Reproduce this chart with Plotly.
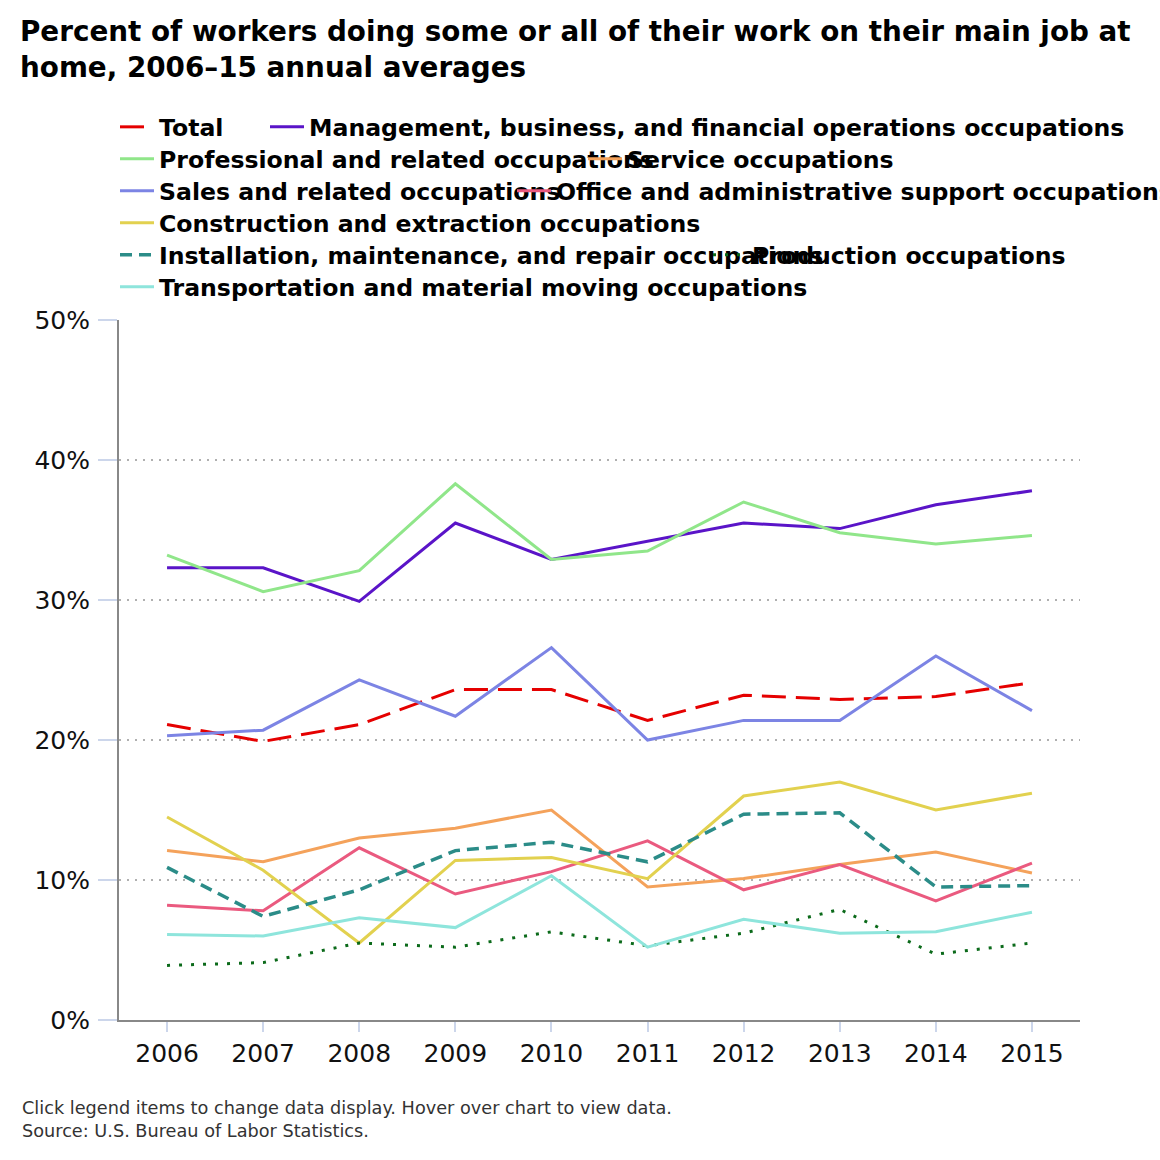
import plotly.graph_objects as go

years = [2006, 2007, 2008, 2009, 2010, 2011, 2012, 2013, 2014, 2015]

total = [21.1, 19.9, 21.1, 23.6, 23.6, 21.4, 23.2, 22.9, 23.1, 24.1]
management = [32.3, 32.3, 29.9, 35.5, 32.9, 34.2, 35.5, 35.1, 36.8, 37.8]
professional = [33.2, 30.6, 32.1, 38.3, 32.9, 33.5, 37.0, 34.8, 34.0, 34.6]
service = [12.1, 11.3, 13.0, 13.7, 15.0, 9.5, 10.1, 11.1, 12.0, 10.5]
sales = [20.3, 20.7, 24.3, 21.7, 26.6, 20.0, 21.4, 21.4, 26.0, 22.1]
office = [8.2, 7.8, 12.3, 9.0, 10.6, 12.8, 9.3, 11.1, 8.5, 11.2]
construction = [14.5, 10.7, 5.5, 11.4, 11.6, 10.1, 16.0, 17.0, 15.0, 16.2]
installation = [10.9, 7.4, 9.3, 12.1, 12.7, 11.3, 14.7, 14.8, 9.5, 9.6]
production = [3.9, 4.1, 5.5, 5.2, 6.3, 5.3, 6.2, 7.9, 4.7, 5.5]
transportation = [6.1, 6.0, 7.3, 6.6, 10.3, 5.2, 7.2, 6.2, 6.3, 7.7]

series = [
    ("Total", total, "#e50000", "24px,10px", 3),
    ("Management, business, and financial operations occupations", management, "#5a14c8", "solid", 3),
    ("Professional and related occupations", professional, "#90e68a", "solid", 3),
    ("Service occupations", service, "#f4a25b", "solid", 3),
    ("Sales and related occupations", sales, "#7c84e4", "solid", 3),
    ("Office and administrative support occupations", office, "#ea5a7f", "solid", 3),
    ("Construction and extraction occupations", construction, "#e2d14f", "solid", 3),
    ("Installation, maintenance, and repair occupations", installation, "#2b8c88", "12px,7px", 3.5),
    ("Production occupations", production, "#0b6a1a", "3px,9px", 3),
    ("Transportation and material moving occupations", transportation, "#8ee5dc", "solid", 3),
]

# legend placement (pixel left edge, row centre) -> paper coords
PL, PR, PT, PB = 119, 1080, 320, 1020
legend_pos = [
    (115, 127), (265, 127),
    (115, 159), (583, 159),
    (115, 191), (512, 191),
    (115, 223),
    (115, 255), (708, 255),
    (115, 287),
]

fig = go.Figure()
layout_legends = {}
for i, (name, vals, color, dash, w) in enumerate(series):
    key = "legend" if i == 0 else f"legend{i+1}"
    fig.add_trace(go.Scatter(
        x=years, y=vals, name=name, mode="lines",
        line=dict(color=color, width=w, dash=dash),
        legend=key,
    ))
    lx, ly = legend_pos[i]
    layout_legends[key] = dict(
        x=(lx - PL) / (PR - PL), y=(PB - ly) / (PB - PT),
        xanchor="left", yanchor="middle",
        bgcolor="rgba(0,0,0,0)", borderwidth=0,
        font=dict(family="DejaVu Sans", size=23.6, color="#000", weight="bold"),
        itemwidth=34,
    )

fig.update_layout(
    width=1160, height=1160,
    margin=dict(l=PL, r=1160 - PR, t=PT, b=1160 - PB, autoexpand=False),
    paper_bgcolor="white", plot_bgcolor="white",
    showlegend=True,
    title=dict(
        text="Percent of workers doing some or all of their work on their main job at<br>home, 2006\u201315 annual averages",
        x=20 / 1160, xref="container", xanchor="left",
        y=1 - 41 / 1160, yref="container", yanchor="top",
        font=dict(family="DejaVu Sans", size=27.8, color="#000", weight="bold"),
    ),
    xaxis=dict(
        range=[2005.5, 2015.5], tickvals=years, ticktext=[str(y) for y in years],
        showgrid=False, zeroline=False,
        showline=True, linecolor="#888888", linewidth=2,
        ticks="outside", ticklen=10, tickwidth=2, tickcolor="#ccd6eb",
        tickfont=dict(family="DejaVu Sans", size=25, color="#111"),
    ),
    yaxis=dict(
        range=[0, 50], dtick=10, ticksuffix="%",
        showgrid=True, gridcolor="#b0b0b0", gridwidth=2, griddash="2px,6px",
        zeroline=False,
        showline=True, linecolor="#888888", linewidth=2,
        ticks="outside", ticklen=19, tickwidth=2, tickcolor="#ccd6eb",
        ticklabelstandoff=3,
        tickfont=dict(family="DejaVu Sans", size=25, color="#111"),
    ),
    annotations=[dict(
        text="Click legend items to change data display. Hover over chart to view data.<br>Source: U.S. Bureau of Labor Statistics.",
        xref="paper", yref="paper",
        x=(20 - PL) / (PR - PL), y=(PB - 1096) / (PB - PT),
        xanchor="left", yanchor="top", align="left", showarrow=False,
        font=dict(family="DejaVu Sans", size=17.7, color="#333"),
    )],
    **layout_legends,
)

fig.write_html("out.html", config={"displayModeBar": False},
               post_script="document.body.style.margin='0';")
